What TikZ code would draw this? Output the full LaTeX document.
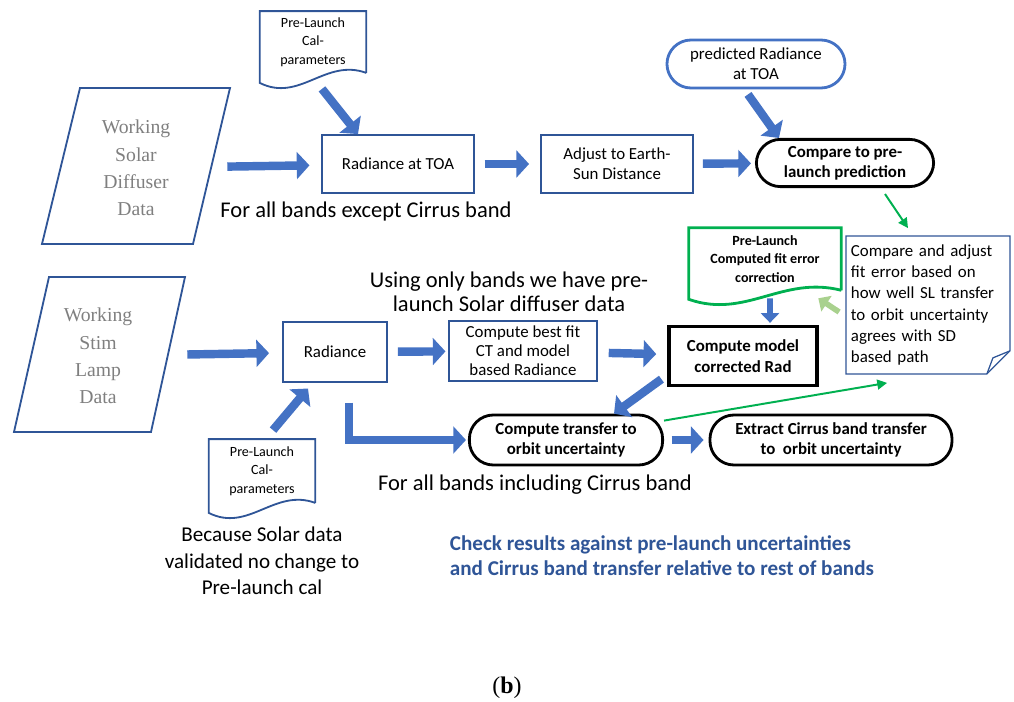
\documentclass[tikz,border=0pt]{standalone}
\usepackage{fontspec}
\setmainfont{Carlito}
\newfontfamily\serifdata{Liberation Serif}
\newfontfamily\capfont{Liberation Serif}
\usetikzlibrary{arrows.meta}

\definecolor{boxblue}{HTML}{2F5597}
\definecolor{arrowblue}{HTML}{4472C4}
\definecolor{okgreen}{HTML}{00B050}
\definecolor{palegreen}{HTML}{A9D18E}
\definecolor{datagray}{HTML}{7F7F7F}

\begin{document}
\begin{tikzpicture}[
            x = 0.025cm, y = -0.025cm, % one unit = one pixel of the sketch
            > = {Triangle[length=9pt, width=19pt]}, % block arrow head
            font = \fontsize{12}{14}\selectfont
        ]

        \tikzstyle{box}=[
            draw = boxblue,
            line width = 1.3pt,
            fill = white,
            align = center,
            inner sep = 2pt
        ]
        \tikzstyle{pill}=[
            draw = black,
            line width = 2pt,
            rounded corners = 0.6cm,
            align = center,
            font = \fontsize{12}{14.5}\selectfont\bfseries
        ]
        \tikzstyle{paper}=[align = center, inner sep = 1pt, font = \fontsize{10}{13}\selectfont]
        \tikzstyle{data}=[align = center, text = datagray, font = \serifdata\fontsize{14}{19.5}\selectfont]
        \tikzstyle{big}=[align = center, font = \fontsize{16}{17}\selectfont]
        \tikzstyle{fat}=[->, arrowblue, line width = 6pt]
        \tikzstyle{greenlink}=[-{Triangle[length=7pt, width=7pt]}, okgreen, line width = 1.4pt]
        \tikzstyle{outline}=[draw = boxblue, line width = 1.3pt]

        \useasboundingbox (0,0) rectangle (1014,702);

        % input data
        \draw[outline] (80,88) -- (230,88) -- (193,244) -- (42,244) -- cycle;
        \node (wsd) [data, minimum width=3.75cm, minimum height=3.9cm] at (136,168) {Working\\Solar\\Diffuser\\Data};
        \draw[outline] (49,277) -- (185,277) -- (151,432) -- (14,432) -- cycle;
        \node (wsl) [data, minimum width=3.55cm, minimum height=3.9cm] at (98,356) {Working\\Stim\\Lamp\\Data};

        % top row
        \node (caltop) [paper, minimum width=2.65cm, minimum height=1.53cm] at (313,42) {Pre-Launch\\Cal-\\parameters};
        \draw[outline] (caltop.south east) -- (caltop.north east) -- (caltop.north west)
            -- ([yshift=-0.25cm]caltop.south west) .. controls +(40,20) and +(-41,-15) .. (caltop.south east);
        \node (radtoa) [box, minimum width=3.78cm, minimum height=1.45cm] at (398,164) {Radiance at TOA};
        \node (earth) [box, minimum width=3.8cm, minimum height=1.45cm] at (617,164) {Adjust to Earth-\\Sun Distance};
        \node (predrad) [pill, draw=arrowblue, font=\fontsize{12}{14.5}\selectfont, minimum width=4.45cm, minimum height=1.2cm] at (756,64) {predicted Radiance\\at TOA};
        \node (cmppre) [pill, minimum width=4.43cm, minimum height=1.18cm] at (845,163) {Compare to pre-\\launch prediction};
        \node (except) [big] at (366,212) {For all bands except Cirrus band};

        % bottom rows
        \node (rad) [box, minimum width=2.6cm, minimum height=1.48cm] at (335,352) {Radiance};
        \node (fit) [box, minimum width=3.68cm, minimum height=1.48cm, font=\fontsize{12}{13.5}\selectfont] at (523,351) {Compute best fit\\CT and model\\based Radiance};
        \node (model) [box, draw=black, line width=2.2pt, minimum width=3.7cm, minimum height=1.48cm, font=\fontsize{12}{14.5}\selectfont\bfseries] at (743,356) {Compute model\\corrected Rad};
        \node (fitdoc) [paper, font=\fontsize{10}{13}\selectfont\bfseries, minimum width=3.8cm, minimum height=1.55cm] at (765,259) {Pre-Launch\\Computed fit error\\correction};
        \draw[okgreen, line width=2pt] (fitdoc.south east) -- (fitdoc.north east) -- (fitdoc.north west)
            -- ([yshift=-0.225cm]fitdoc.south west) .. controls +(57,20) and +(-59,-15) .. (fitdoc.south east);
        \node (note) [align=left, text width=3.85cm, minimum width=4.08cm, minimum height=3.43cm, inner sep=0pt, font=\fontsize{12}{15.2}\selectfont] at (928,305)
            {Compare and adjust\\fit error based on\\how well SL transfer\\to orbit uncertainty\\agrees with SD\\based path};
        \draw[boxblue, line width=0.9pt] (note.north west) -- (note.north east) -- ([yshift=0.575cm]note.south east)
            -- ([xshift=-0.575cm]note.south east) -- (note.south west) -- cycle;
        \draw[boxblue, line width=0.9pt] ([yshift=0.575cm]note.south east) -- ([xshift=-0.425cm, yshift=0.4cm]note.south east)
            -- ([xshift=-0.575cm]note.south east);
        \node (usingonly) [big] at (509,292) {Using only bands we have pre-\\launch Solar diffuser data};
        \node (xfer) [pill, minimum width=4.83cm, minimum height=1.25cm] at (566,440) {Compute transfer to\\orbit uncertainty};
        \node (extract) [pill, minimum width=6.05cm, minimum height=1.25cm] at (831,440) {Extract Cirrus band transfer\\to~ orbit uncertainty};
        \node (calbot) [paper, minimum width=2.65cm, minimum height=1.58cm] at (262,471) {Pre-Launch\\Cal-\\parameters};
        \draw[outline] (calbot.south east) -- (calbot.north east) -- (calbot.north west)
            -- ([yshift=-0.25cm]calbot.south west) .. controls +(40,20) and +(-41,-15) .. (calbot.south east);
        \node (including) [big] at (535,485) {For all bands including Cirrus band};
        \node (because) [align=center, font=\fontsize{15}{19}\selectfont] at (262,561) {Because Solar data\\validated no change to\\Pre-launch cal};
        \node (check) [anchor=west, align=left, text=boxblue, font=\fontsize{15}{18}\selectfont\bfseries] at (445,556)
            {Check results against pre-launch uncertainties\\and Cirrus band transfer relative to rest of bands};
        \node (caption) [font=\capfont\fontsize{17}{19}\selectfont] at (507,688) {(\textbf{b})};

        % block arrows
        \path[fat] (wsd) edge [shorten <=0.4cm, shorten >=0.3cm] (radtoa);
        \path[fat] (radtoa) edge [shorten <=0.25cm, shorten >=0.275cm] (earth);
        \path[fat] (earth) edge [shorten <=0.225cm, shorten >=0.1cm] (cmppre);
        \draw[fat] ([xshift=0.225cm, yshift=-0.4cm]caltop.south) -- ([xshift=-1.0cm]radtoa.north);
        \draw[fat] ([xshift=-0.2cm, yshift=-0.125cm]predrad.south) -- ([xshift=-1.65cm]cmppre.north);
        \path[fat] (wsl) edge [shorten <=0.45cm, shorten >=0.325cm] (rad);
        \path[fat] (rad) edge [shorten <=0.25cm, shorten >=0.075cm] (fit);
        \path[fat] (fit) edge [shorten <=0.28cm, shorten >=0.28cm] (model);
        \draw[fat] ([xshift=0.275cm, yshift=0.225cm]calbot.north) -- ([xshift=-0.675cm, yshift=-0.15cm]rad.south);
        \draw[fat] ([xshift=0.35cm]rad.south) |- (xfer.west) [shorten <=0.5cm, shorten >=0.05cm];
        \draw[fat] ([xshift=-0.15cm, yshift=0.2cm]model.south west) -- ([xshift=1.2cm]xfer.north);
        \path[fat] (xfer) edge [shorten <=0.19cm, shorten >=0.125cm] (extract);
        \draw[fat, line width=4pt, -{Triangle[length=7pt, width=13pt]}] ([xshift=0.125cm, yshift=-0.2cm]fitdoc.south)
            -- ([xshift=0.675cm, yshift=0.05cm]model.north);

        % feedback links
        \draw[greenlink] ([xshift=1.0cm, yshift=-0.15cm]cmppre.south) -- ([xshift=-0.5cm, yshift=0.2cm]note.north);
        \draw[greenlink] ([yshift=-0.175cm]xfer.north east) -- ([xshift=1.025cm, yshift=-0.225cm]note.south west);
        \draw[fat, palegreen, line width=4pt, -{Triangle[length=7pt, width=13pt]}] ([xshift=-0.175cm, yshift=-0.175cm]note.west)
            -- ([xshift=-0.575cm, yshift=-0.2cm]fitdoc.south east);

    \end{tikzpicture}
\end{document}
